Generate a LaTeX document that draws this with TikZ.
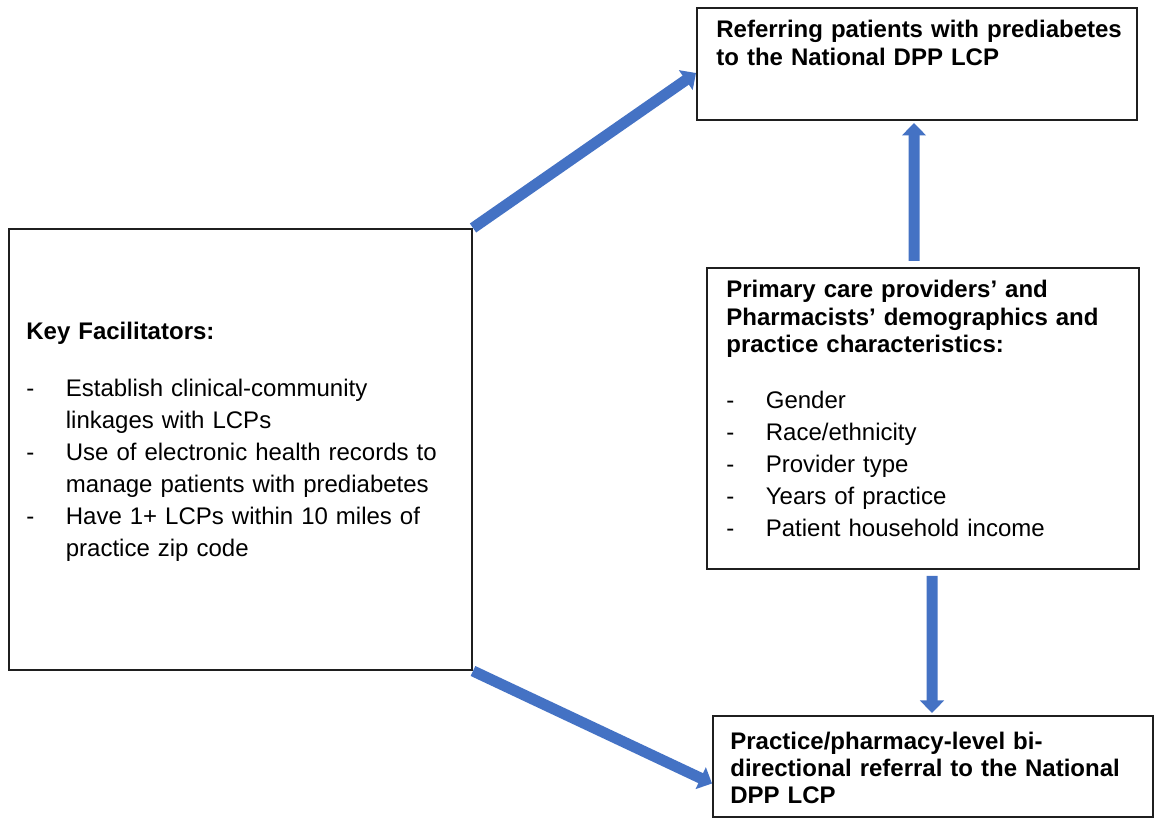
\documentclass[tikz,border=0pt]{standalone}
\usepackage{fontspec}
\setmainfont{Liberation Sans}
\usetikzlibrary{arrows.meta}

\definecolor{arrowblue}{HTML}{4472C4}
\definecolor{boxline}{HTML}{1F1F1F}
\setlength{\parindent}{0pt}

% dash bullets with a hanging indent
\newcommand{\bulletdash}{\makebox[0.79cm][l]{-}}
\newcommand{\bulletgap}{\hspace*{0.79cm}}

\tikzset{
  box/.style={draw=boxline, line width=0.04cm, inner sep=0pt},
  boxtext/.style={inner sep=0pt, anchor=north west, text width=9cm, align=left,
    font=\fontsize{13.66pt}{18.21pt}\selectfont},
  blockarrow/.style={draw=arrowblue, line width=0.22cm,
    -{Triangle[width=0.47cm,length=0.25cm]}}
}

\begin{document}
\begin{tikzpicture}
\useasboundingbox (0,0) rectangle (23.1,16.38);

% the four boxes
\node[box, minimum width=8.8cm, minimum height=2.24cm] (refer) at (18.34,15.10) {};
\node[box, minimum width=9.26cm, minimum height=8.82cm] (facil) at (4.81,7.39) {};
\node[box, minimum width=8.64cm, minimum height=6.02cm] (demo) at (18.46,8.01) {};
\node[box, minimum width=8.8cm, minimum height=2.02cm] (bidir) at (18.66,1.05) {};

% their texts
\node[boxtext] (refertext) at ([shift={(0.4,-0.15)}]refer.north west)
  {\strut\textbf{Referring patients with prediabetes\\[-0.08cm]
   to the National DPP LCP}};
\node[boxtext] (faciltext) at ([shift={(0.36,-1.77)}]facil.north west)
  {\strut\textbf{Key Facilitators:}\\[0.5cm]
   \bulletdash Establish clinical-community\\
   \bulletgap linkages with LCPs\\
   \bulletdash Use of electronic health records to\\
   \bulletgap manage patients with prediabetes\\
   \bulletdash Have 1+ LCPs within 10 miles of\\
   \bulletgap practice zip code};
\node[boxtext] (demotext) at ([shift={(0.4,-0.16)}]demo.north west)
  {\strut\textbf{Primary care providers’ and\\[-0.09cm]
   Pharmacists’ demographics and\\[-0.09cm]
   practice characteristics:}\\[0.48cm]
   \bulletdash Gender\\
   \bulletdash Race/ethnicity\\
   \bulletdash Provider type\\
   \bulletdash Years of practice\\
   \bulletdash Patient household income};
\node[boxtext] (bidirtext) at ([shift={(0.36,-0.23)}]bidir.north west)
  {\strut\textbf{Practice/pharmacy-level bi-\\[-0.1cm]
   directional referral to the National\\[-0.1cm]
   DPP LCP}};

% arrows
\draw[blockarrow] (facil.north east) -- ([yshift=-0.18cm]refer.west);
\draw[blockarrow] (facil.south east) -- ([yshift=-0.34cm]bidir.west);
\draw[blockarrow] ([shift={(-0.18,0.12)}]demo.north) -- ([shift={(-0.06,-0.04)}]refer.south);
\draw[blockarrow] ([shift={(0.18,-0.12)}]demo.south) -- ([shift={(-0.02,0.04)}]bidir.north);
\end{tikzpicture}
\end{document}
